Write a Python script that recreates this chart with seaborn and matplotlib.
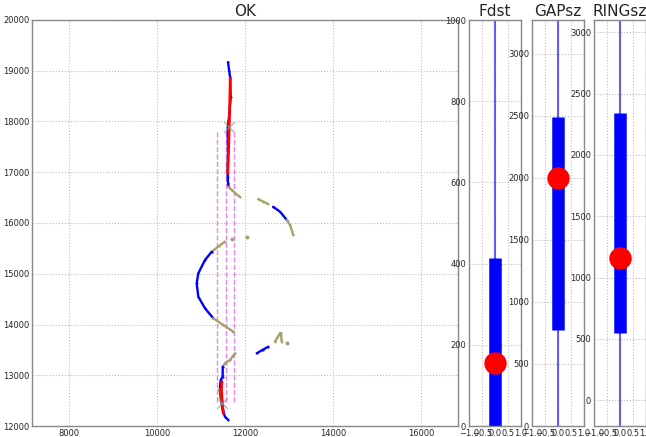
import numpy as np
import pandas as pd
import matplotlib
matplotlib.use("Agg")
import matplotlib.pyplot as plt
import seaborn as sns

# --- data ---
# main panel "OK": track segments (x, y)
blue_top_x = [11614, 11640, 11660, 11675, 11636, 11607, 11614, 11607, 11614, 11630]
blue_top_y = [19170, 19000, 18880, 18480, 18090, 17890, 17440, 16910, 16790, 16710]
olive_top_x = [11630, 11698, 11790, 11886]
olive_top_y = [16710, 16650, 16580, 16512]
red_top_x = [11665, 11655, 11640, 11625, 11607]
red_top_y = [18850, 18400, 17900, 17400, 16990]

arc_r_olive1_x = [12300, 12420, 12520]
arc_r_olive1_y = [16470, 16420, 16375]
arc_r_blue_x = [12640, 12800, 12948]
arc_r_blue_y = [16320, 16220, 16060]
arc_r_olive2_x = [12948, 13023, 13098]
arc_r_olive2_y = [16060, 15960, 15765]

arc_l_olive1_x = [11545, 11400, 11243]
arc_l_olive1_y = [15632, 15540, 15434]
arc_l_blue_x = [11243, 11091, 10939, 10902, 10939, 11091, 11280]
arc_l_blue_y = [15434, 15271, 15009, 14812, 14548, 14319, 14122]
arc_l_olive2_x = [11280, 11507, 11734]
arc_l_olive2_y = [14122, 13990, 13858]
olive_dots_x = [11711, 12039, 12948]
olive_dots_y = [15679, 15718, 13630]

low_olive_x = [11773, 11659, 11545, 11493]
low_olive_y = [13432, 13300, 13235, 13168]
low_blue_x = [11493, 11493, 11448, 11432, 11448, 11493, 11545, 11620]
low_blue_y = [13168, 12971, 12906, 12774, 12577, 12315, 12183, 12118]
red_low_x = [11470, 11465, 11480, 11507]
red_low_y = [12870, 12700, 12500, 12250]
dark_olive_x = [11420, 11440, 11470]
dark_olive_y = [12720, 12600, 12450]

mid_blue_x = [12266, 12400, 12530]
mid_blue_y = [13432, 13500, 13563]
mid_olive_x = [12682, 12795, 12818, 12834]
mid_olive_y = [13661, 13827, 13832, 13661]

cross_x = [11636, 11470]
cross_y = [17892, 12453]

guide_x = [11357, 11561, 11757]
guide_y0, guide_y1 = 12480, 17800

# side panels: whisker range, box range, marker value
panels = ["Fdst", "GAPsz", "RINGsz"]
whisk_lo = [0, 0, -210]
whisk_hi = [1000, 3270, 3100]
box_lo = [0, 774, 550]
box_hi = [414, 2492, 2345]
point_val = [155, 2000, 1162]
ylims = [(0, 1000), (0, 3270), (-210, 3100)]
yticks = [np.arange(0, 1001, 200), np.arange(0, 3001, 500), np.arange(0, 3001, 500)]

# --- style ---
sns.set_style("whitegrid")
plt.rcParams.update({
    "font.family": ["DejaVu Sans"],
    "grid.linestyle": ":",
    "grid.color": "#bbbbbb",
    "grid.linewidth": 0.8,
    "axes.edgecolor": "#888888",
    "axes.linewidth": 1.0,
    "xtick.labelsize": 6,
    "ytick.labelsize": 6,
})

BLUE = "#0000ff"
RED = "#ff0000"
OLIVE = "#a3a266"
DARK_OLIVE = "#6b6b2e"

fig = plt.figure(figsize=(6.46, 4.37), dpi=100)
ax = fig.add_axes([32 / 646, 11 / 437, 426 / 646, 406 / 437])


def seg(xs, ys, color, lw=1.7, alpha=1.0):
    d = pd.DataFrame({"x": xs, "y": ys})
    sns.lineplot(data=d, x="x", y="y", sort=False, estimator=None, color=color,
                 lw=lw, alpha=alpha, ax=ax, marker=".", markersize=3,
                 markeredgewidth=0)


for gx in guide_x:
    ax.plot([gx, gx], [guide_y0, guide_y1], ls="--", color="violet", lw=1.0)

seg(blue_top_x, blue_top_y, BLUE)
seg(olive_top_x, olive_top_y, OLIVE)
seg(red_top_x, red_top_y, RED, lw=2.0)
seg(arc_r_olive1_x, arc_r_olive1_y, OLIVE)
seg(arc_r_blue_x, arc_r_blue_y, BLUE)
seg(arc_r_olive2_x, arc_r_olive2_y, OLIVE)
seg(arc_l_olive1_x, arc_l_olive1_y, OLIVE)
seg(arc_l_blue_x, arc_l_blue_y, BLUE)
seg(arc_l_olive2_x, arc_l_olive2_y, OLIVE)
seg(low_olive_x, low_olive_y, OLIVE)
seg(low_blue_x, low_blue_y, BLUE)
seg(dark_olive_x, dark_olive_y, DARK_OLIVE)
seg(red_low_x, red_low_y, RED, lw=2.0)
seg(mid_blue_x, mid_blue_y, BLUE)
seg(mid_olive_x, mid_olive_y, OLIVE)
sns.scatterplot(x=olive_dots_x, y=olive_dots_y, color=OLIVE, s=8, linewidth=0, ax=ax)
sns.scatterplot(x=cross_x, y=cross_y, marker="x", color="#999999", s=60,
                linewidth=1.0, alpha=0.7, ax=ax, zorder=6)

ax.set_xlim(7160, 16840)
ax.set_ylim(12000, 20000)
ax.set_xticks([8000, 10000, 12000, 14000, 16000])
ax.set_yticks(np.arange(12000, 20001, 1000))
ax.set_xlabel("")
ax.set_ylabel("")
ax.set_title("OK", fontsize=11, pad=3)
ax.tick_params(length=0, pad=2)

# --- side panels ---
lefts = [469, 532, 594]
for i, name in enumerate(panels):
    sax = fig.add_axes([lefts[i] / 646, 11 / 437, 52 / 646, 406 / 437])
    sax.plot([0, 0], [whisk_lo[i], whisk_hi[i]], color=BLUE, lw=1.5, alpha=0.6)
    sax.plot([0, 0], [box_lo[i], box_hi[i]], color=BLUE, lw=9, solid_capstyle="butt")
    sns.scatterplot(x=[0], y=[point_val[i]], color=RED, s=260, linewidth=0,
                    ax=sax, zorder=5)
    sax.set_xlim(-1, 1)
    sax.set_ylim(*ylims[i])
    sax.set_xticks([-1.0, -0.5, 0.0, 0.5, 1.0])
    sax.set_xticklabels(["\u22121.0", "\u22120.5", "0.0", "0.5", "1.0"])
    sax.set_yticks(yticks[i])
    sax.set_title(name, fontsize=11, pad=3)
    sax.tick_params(length=0, pad=2)
    sax.set_xlabel("")
    sax.set_ylabel("")

fig.savefig("out.png", dpi=100)
